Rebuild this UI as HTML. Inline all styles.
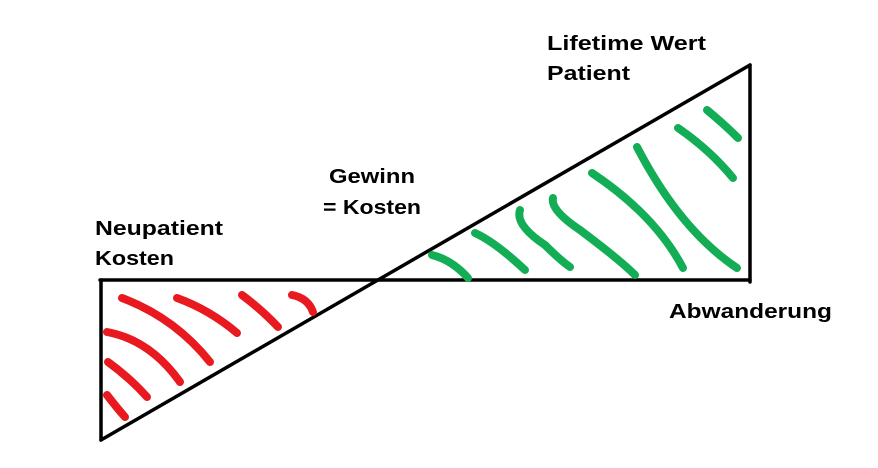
<!DOCTYPE html>
<html><head><style>
html,body{margin:0;padding:0;background:#fff;width:878px;height:468px;overflow:hidden}
svg text{font-family:"Liberation Sans",sans-serif;font-weight:bold;font-size:20px;fill:#000}
</style></head><body>
<svg width="878" height="468" viewBox="0 0 878 468" xmlns="http://www.w3.org/2000/svg">
<g stroke="#000" stroke-width="3.5" fill="none" stroke-linecap="round">
<line x1="100" y1="280" x2="750" y2="280"/>
<line x1="101" y1="280" x2="101" y2="440"/>
<line x1="101" y1="440" x2="750" y2="65"/>
<line x1="750" y1="65" x2="750" y2="282"/>
</g>
<g stroke="#e8191f" stroke-width="8" fill="none" stroke-linecap="round">
<path d="M122 298 Q175 318 210 362"/>
<path d="M177 298 Q210 310 237 333"/>
<path d="M242 295 Q262 310 278 327"/>
<path d="M292 295 Q308 298 313 312"/>
<path d="M107 332 Q150 340 180 382"/>
<path d="M108 362 Q130 378 147 397"/>
<path d="M107 395 Q117 408 125 417"/>
</g>
<g stroke="#13ad55" stroke-width="8" fill="none" stroke-linecap="round">
<path d="M432 255 Q452 260 468 278"/>
<path d="M475 233 Q495 242 525 270"/>
<path d="M520 210 Q515 225 545 245 Q560 260 570 267"/>
<path d="M553 198 Q550 210 580 230 Q620 260 635 275"/>
<path d="M592 173 Q655 215 683 268"/>
<path d="M637 147 Q680 230 737 268"/>
<path d="M678 128 Q710 150 733 178"/>
<path d="M707 110 Q725 125 738 138"/>
</g>
<text x="547" y="50" textLength="159" lengthAdjust="spacingAndGlyphs">Lifetime Wert</text>
<text x="547" y="80" textLength="83" lengthAdjust="spacingAndGlyphs">Patient</text>
<text x="329" y="183" textLength="86" lengthAdjust="spacingAndGlyphs">Gewinn</text>
<text x="323" y="214" textLength="98" lengthAdjust="spacingAndGlyphs">= Kosten</text>
<text x="95" y="235" textLength="128" lengthAdjust="spacingAndGlyphs">Neupatient</text>
<text x="95" y="265" textLength="79" lengthAdjust="spacingAndGlyphs">Kosten</text>
<text x="669" y="318" textLength="163" lengthAdjust="spacingAndGlyphs">Abwanderung</text>
</svg>
</body></html>
